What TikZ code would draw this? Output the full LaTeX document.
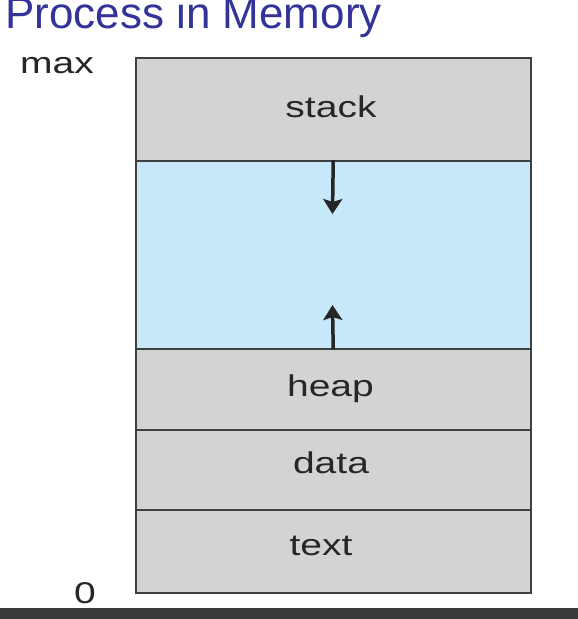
\documentclass[tikz,border=0pt]{standalone}
\usepackage{fontspec}
\setmainfont{Liberation Sans}
\usetikzlibrary{arrows.meta}
\definecolor{segmentgray}{RGB}{210,211,213}
\definecolor{freeblue}{RGB}{198,232,248}
\definecolor{titleblue}{RGB}{51,51,153}
\definecolor{framegray}{RGB}{64,64,64}
\definecolor{footbar}{RGB}{58,58,58}
\newcommand\widelabel[1]{\scalebox{1.3}[1]{#1}}

\begin{document}
\begin{tikzpicture}[x=1pt, y=-1pt, >={Stealth[length=15pt,width=19pt,inset=3pt]},
  segment/.style={draw=framegray, line width=1.5pt, fill=segmentgray,
    minimum width=395pt, inner sep=0pt, anchor=north west},
  lbl/.style={font=\fontsize{30}{31}\selectfont, text=black!85, anchor=base, inner sep=0pt}]
  \useasboundingbox (0,0) rectangle (578,619);
  \fill[white] (0,0) rectangle (578,619);
  % title, cut at the top edge
  \node[titleblue, anchor=base west, inner sep=0pt, font=\fontsize{44}{46}\selectfont]
    (title) at (5,28) {Process in Memory};
  % memory segments, top to bottom
  \node[segment, minimum height=103pt] (stack) at (135,57) {};
  \node[segment, minimum height=188pt, fill=freeblue] (free) at (135,160) {};
  \node[segment, minimum height=81pt] (heap) at (135,348) {};
  \node[segment, minimum height=80pt] (data) at (135,429) {};
  \node[segment, minimum height=83pt] (text) at (135,509) {};
  \node[lbl] (stacklbl) at (331,117) {\widelabel{stack}};
  \node[lbl] (heaplbl) at (330.5,396) {\widelabel{heap}};
  \node[lbl] (datalbl) at (331,473) {\widelabel{data}};
  \node[lbl] (textlbl) at (321,555) {\widelabel{text}};
  \node[lbl, anchor=base west] (maxlbl) at (20,73) {\widelabel{max}};
  \node[lbl] (zerolbl) at (85,603) {\widelabel{0}};
  % growth arrows
  \coordinate (growdown) at (332.5,214);
  \coordinate (growup) at (332.5,305);
  \draw[->, line width=3.5pt, black!85] (free.north) -- (growdown);
  \draw[->, line width=3.5pt, black!85] (free.south) -- (growup);
  \fill[footbar] (0,608) rectangle (578,619);
\end{tikzpicture}
\end{document}
